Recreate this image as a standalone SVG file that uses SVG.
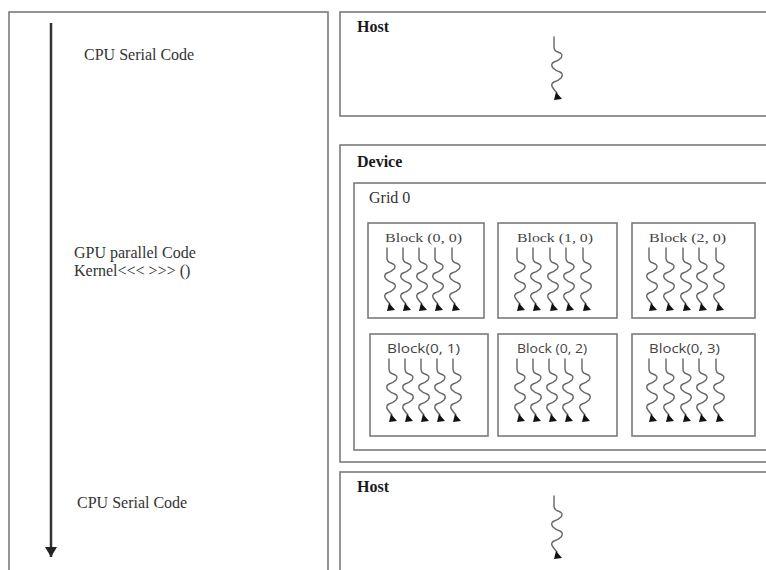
<svg xmlns="http://www.w3.org/2000/svg" xmlns:xlink="http://www.w3.org/1999/xlink" width="766" height="570" viewBox="0 0 766 570">
<style>
.frame{fill:#fff;stroke:#7a7a7a;stroke-width:1.6}
.blk{fill:#fff;stroke:#7a7a7a;stroke-width:1.6}
.lt{font-family:"Liberation Serif","Times New Roman",serif;font-size:16px;fill:#333}
.hd{font-family:"Liberation Serif","Times New Roman",serif;font-size:16px;font-weight:bold;fill:#1a1a1a}
.bs{font-family:"Liberation Serif","Times New Roman",serif;font-size:13px;fill:#444}
.bn{font-family:"Open Sans","DejaVu Sans",sans-serif;font-size:12.5px;fill:#444}
.th{fill:none;stroke:#666;stroke-width:1.4;stroke-linecap:round;stroke-linejoin:round}
</style>
<defs>
<symbol id="thread" overflow="visible">
<path class="th" d="M0,0 L0,10 Q0,14 4,15 Q10,17 7,21 Q4,24 0,25 Q-4,27 -1,31 Q2,34 6,35 Q10,37 7,41 Q4,44 0,45 Q-4,47 -1,51 Q1,54 3,56"/>
<polygon points="2,55 8,62 0,63" fill="#111"/>
</symbol>
<marker id="ah" markerWidth="12" markerHeight="12" refX="10" refY="6" orient="auto" markerUnits="userSpaceOnUse">
<path d="M0,0 L10,6 L0,12 Z" fill="#222"/>
</marker>
</defs>
<rect width="766" height="570" fill="#fff"/>

<g id="timeline">
<rect class="frame" x="9" y="12" width="319" height="570"/>
<text class="lt" x="84" y="60">CPU Serial Code</text>
<text class="lt" x="74" y="258">GPU parallel Code</text>
<text class="lt" x="74" y="276">Kernel&lt;&lt;&lt; &gt;&gt;&gt; ()</text>
<text class="lt" x="77" y="508">CPU Serial Code</text>
</g>

<g id="connectors">
<line x1="51" y1="23" x2="51" y2="557" stroke="#333" stroke-width="2.5" marker-end="url(#ah)"/>
</g>

<g id="host1">
<rect class="frame" x="340" y="12" width="440" height="104"/>
<text class="hd" x="357" y="32">Host</text>
<use xlink:href="#thread" x="554" y="37"/>
</g>

<g id="device">
<rect class="frame" x="340" y="145" width="440" height="317"/>
<text class="hd" x="357" y="167">Device</text>
</g>

<g id="grid0">
<rect class="frame" x="354" y="183" width="420" height="267"/>
<text class="lt" x="369" y="203">Grid 0</text>
</g>

<g id="block-0-0">
<rect class="blk" x="368" y="223" width="116" height="95"/>
<text class="bs" x="385" y="242" textLength="77" lengthAdjust="spacingAndGlyphs">Block (0, 0)</text>
<use xlink:href="#thread" x="387" y="248"/>
<use xlink:href="#thread" x="403" y="248"/>
<use xlink:href="#thread" x="419" y="248"/>
<use xlink:href="#thread" x="435" y="248"/>
<use xlink:href="#thread" x="452" y="248"/>
</g>

<g id="block-1-0">
<rect class="blk" x="498" y="223" width="119" height="95"/>
<text class="bs" x="517" y="242" textLength="76" lengthAdjust="spacingAndGlyphs">Block (1, 0)</text>
<use xlink:href="#thread" x="517" y="248"/>
<use xlink:href="#thread" x="533" y="248"/>
<use xlink:href="#thread" x="550" y="248"/>
<use xlink:href="#thread" x="566" y="248"/>
<use xlink:href="#thread" x="583" y="248"/>
</g>

<g id="block-2-0">
<rect class="blk" x="632" y="223" width="123" height="95"/>
<text class="bs" x="649" y="242" textLength="77" lengthAdjust="spacingAndGlyphs">Block (2, 0)</text>
<use xlink:href="#thread" x="649" y="248"/>
<use xlink:href="#thread" x="666" y="248"/>
<use xlink:href="#thread" x="683" y="248"/>
<use xlink:href="#thread" x="699" y="248"/>
<use xlink:href="#thread" x="716" y="248"/>
</g>

<g id="block-0-1">
<rect class="blk" x="370" y="334" width="118" height="102"/>
<text class="bn" x="387" y="353" textLength="73" lengthAdjust="spacingAndGlyphs">Block(0, 1)</text>
<use xlink:href="#thread" x="389" y="359"/>
<use xlink:href="#thread" x="405" y="359"/>
<use xlink:href="#thread" x="421" y="359"/>
<use xlink:href="#thread" x="437" y="359"/>
<use xlink:href="#thread" x="453" y="359"/>
</g>

<g id="block-0-2">
<rect class="blk" x="498" y="334" width="119" height="102"/>
<text class="bn" x="517" y="353" textLength="70" lengthAdjust="spacingAndGlyphs">Block (0, 2)</text>
<use xlink:href="#thread" x="517" y="359"/>
<use xlink:href="#thread" x="533" y="359"/>
<use xlink:href="#thread" x="549" y="359"/>
<use xlink:href="#thread" x="565" y="359"/>
<use xlink:href="#thread" x="582" y="359"/>
</g>

<g id="block-0-3">
<rect class="blk" x="632" y="334" width="123" height="102"/>
<text class="bn" x="649" y="353" textLength="71" lengthAdjust="spacingAndGlyphs">Block(0, 3)</text>
<use xlink:href="#thread" x="649" y="359"/>
<use xlink:href="#thread" x="666" y="359"/>
<use xlink:href="#thread" x="683" y="359"/>
<use xlink:href="#thread" x="699" y="359"/>
<use xlink:href="#thread" x="716" y="359"/>
</g>

<g id="host2">
<rect class="frame" x="340" y="472" width="440" height="120"/>
<text class="hd" x="357" y="492">Host</text>
<use xlink:href="#thread" x="554" y="496"/>
</g>
</svg>
